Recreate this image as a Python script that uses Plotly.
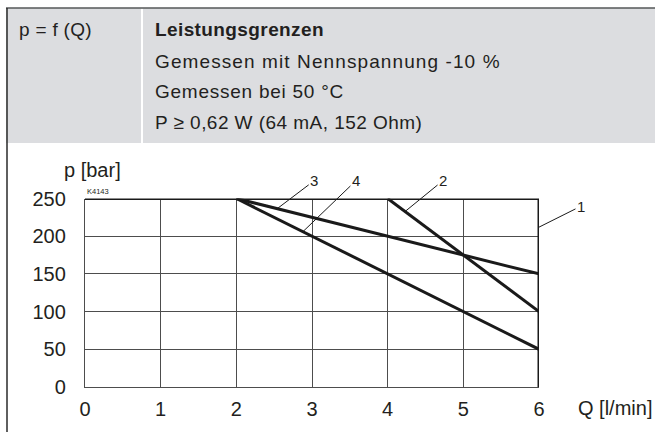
import plotly.graph_objects as go

W, H = 655, 432

# ---------------- data ----------------
x_ticks = [0, 1, 2, 3, 4, 5, 6]
y_ticks = [0, 50, 100, 150, 200, 250]

Q_1 = [0, 6, 6]
p_1 = [250, 250, 0]
Q_2 = [4, 6]
p_2 = [250, 100]
Q_3 = [2, 6]
p_3 = [250, 150]
Q_4 = [2, 6]
p_4 = [250, 50]

curve_names = ["1", "2", "3", "4"]
label_Q = [6.0, 4.23, 2.54, 2.88]
label_p = [212, 232.75, 236.5, 206]

header_left = "p = f (Q)"
header_title = "Leistungsgrenzen"
header_lines = ["Gemessen mit Nennspannung -10 %",
                "Gemessen bei 50 °C",
                "P ≥ 0,62 W (64 mA, 152 Ohm)"]
x_title = "Q [l/min]"
y_title = "p [bar]"
code_text = "K4143"

# ---------------- helpers ----------------
def px(x):
    return x / W

def py(y):
    return 1 - y / H

INK = "#231f20"
LINE = "#1a1a1a"
GRID = "#4d4d4d"
BASE = "Liberation Sans, Arial, sans-serif"

fig = go.Figure()

for q, p in [(Q_1, p_1), (Q_2, p_2), (Q_3, p_3), (Q_4, p_4)]:
    fig.add_trace(go.Scatter(x=q, y=p, mode="lines",
                             line=dict(color=LINE, width=3),
                             cliponaxis=False, showlegend=False,
                             hoverinfo="skip"))

shapes = [
    dict(type="rect", xref="paper", yref="paper",
         x0=px(6), x1=1.0, y0=py(143), y1=py(8),
         fillcolor="#dcdde0", line=dict(width=0), layer="below"),
    dict(type="line", xref="paper", yref="paper",
         x0=px(142), x1=px(142), y0=py(143), y1=py(8.5),
         line=dict(color="white", width=2), layer="below"),
    dict(type="line", xref="paper", yref="paper",
         x0=px(6), x1=1.0, y0=py(8), y1=py(8),
         line=dict(color="#555759", width=1.5)),
    dict(type="line", xref="paper", yref="paper",
         x0=px(7), x1=px(7), y0=py(8), y1=0,
         line=dict(color="#2a2a2a", width=1.5)),
]

def spaced(t, s):
    return f'<span style="letter-spacing:{s}px">{t}</span>'

annotations = [
    dict(text=spaced(header_left, 0.3), x=px(17), y=py(30),
         xref="paper", yref="paper", xanchor="left", yanchor="middle",
         showarrow=False, font=dict(family=BASE, size=19, color=INK)),
    dict(text=spaced(f"<b>{header_title}</b>", 0.4), x=px(153), y=py(30),
         xref="paper", yref="paper", xanchor="left", yanchor="middle",
         showarrow=False, font=dict(family=BASE, size=19, color=INK)),
]
line_spacing = [1.1, 0.75, 0.45]
for i, t in enumerate(header_lines):
    annotations.append(dict(text=spaced(t, line_spacing[i]), x=px(153), y=py(61 + 30.7 * i),
                            xref="paper", yref="paper", xanchor="left", yanchor="middle",
                            showarrow=False, font=dict(family=BASE, size=19, color=INK)))

annotations += [
    dict(text=y_title, x=px(92), y=py(170), xref="paper", yref="paper",
         xanchor="center", yanchor="middle", showarrow=False,
         font=dict(family=BASE, size=20, color=INK)),
    dict(text=x_title, x=px(615), y=py(408), xref="paper", yref="paper",
         xanchor="center", yanchor="middle", showarrow=False,
         font=dict(family=BASE, size=20, color=INK)),
    dict(text=code_text, x=px(85), y=py(191), xref="paper", yref="paper",
         xanchor="left", yanchor="middle", showarrow=False,
         font=dict(family=BASE, size=7.5, color=INK)),
]

offsets = {"1": (42, -21), "2": (38, -31), "3": (37, -28), "4": (53, -51)}
for n, q, p in zip(curve_names, label_Q, label_p):
    ax, ay = offsets[n]
    annotations.append(dict(text=n, x=q, y=p, xref="x", yref="y",
                            showarrow=True, arrowhead=0, arrowwidth=1,
                            arrowcolor=LINE, ax=ax, ay=ay, standoff=0,
                            font=dict(family=BASE, size=15, color=INK)))

fig.update_layout(
    template="none",
    width=W, height=H, margin=dict(l=0, r=0, t=0, b=0, autoexpand=False),
    paper_bgcolor="white", plot_bgcolor="white",
    shapes=shapes, annotations=annotations,
    xaxis=dict(domain=[px(85), px(539)], range=[0, 6], tickvals=x_ticks,
               automargin=False,
               showgrid=True, gridcolor=GRID, gridwidth=1, zeroline=False,
               showline=True, linecolor=GRID, linewidth=1.2,
               ticks="", ticklabelstandoff=4,
               tickfont=dict(family=BASE, size=20, color=INK), fixedrange=True),
    yaxis=dict(domain=[py(387), py(198.5)], range=[0, 250], tickvals=y_ticks,
               automargin=False,
               showgrid=True, gridcolor=GRID, gridwidth=1, zeroline=False,
               showline=True, linecolor=GRID, linewidth=1.2,
               ticks="", ticklabelstandoff=14,
               tickfont=dict(family=BASE, size=20, color=INK), fixedrange=True),
)

fig.write_html("out.html",
               config={"displayModeBar": False, "staticPlot": True},
               post_script="document.body.style.margin='0';document.body.style.overflow='hidden';")
